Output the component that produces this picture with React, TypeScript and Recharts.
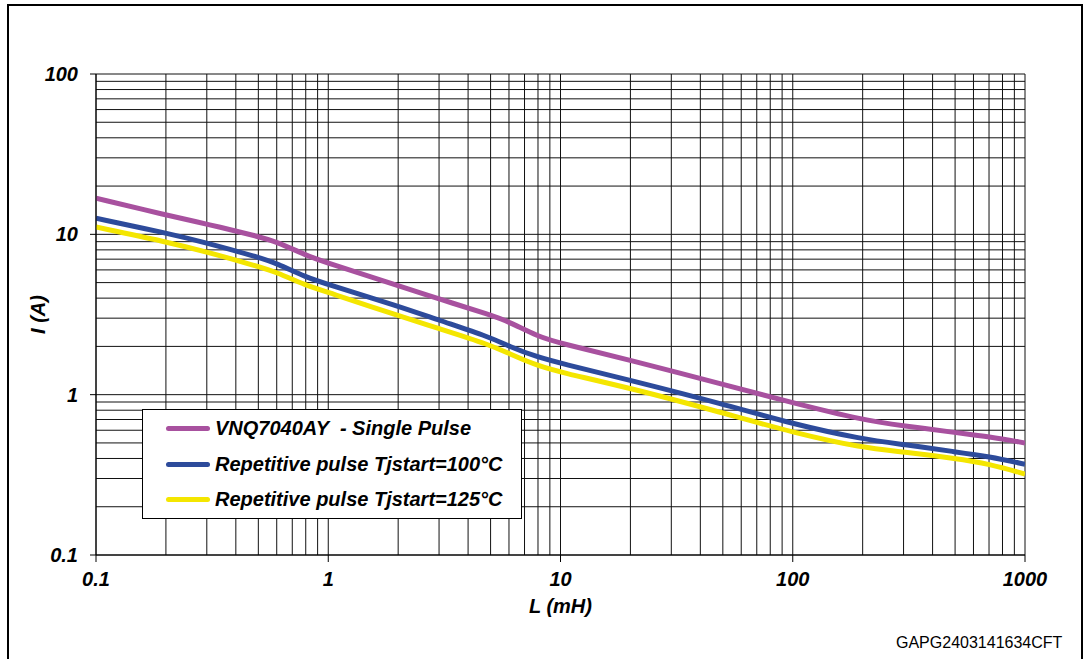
import React from "react";
import {
  LineChart,
  Line,
  XAxis,
  YAxis,
  ReferenceLine,
  Label,
} from "recharts";

// inductance values (mH) where the curves were read
const inductance = [0.1, 0.2, 0.3, 0.5, 0.6, 0.8, 1, 2, 3, 5, 6, 8, 10, 20, 50, 100, 200, 300, 500, 700, 1000];

// current (A) for each curve
const singlePulse = [16.8, 13.2, 11.6, 9.7, 9.0, 7.4, 6.6, 4.8, 3.95, 3.14, 2.85, 2.3, 2.09, 1.64, 1.16, 0.89, 0.695, 0.64, 0.58, 0.547, 0.5];
const rep100 = [12.6, 10.2, 8.85, 7.2, 6.6, 5.4, 4.86, 3.57, 2.91, 2.28, 2.0, 1.71, 1.57, 1.23, 0.875, 0.656, 0.527, 0.489, 0.44, 0.411, 0.368];
const rep125 = [11.1, 9.0, 7.77, 6.3, 5.8, 4.8, 4.35, 3.11, 2.58, 2.04, 1.8, 1.51, 1.38, 1.1, 0.77, 0.58, 0.465, 0.44, 0.4, 0.37, 0.32];

const xTicks = [0.1, 1, 10, 100, 1000];
const yTicks = [0.1, 1, 10, 100];

const seriesNames = [
  "VNQ7040AY  - Single Pulse",
  "Repetitive pulse Tjstart=100°C",
  "Repetitive pulse Tjstart=125°C",
];
const seriesColors = ["#A8519F", "#2D4B9B", "#F4E600"];

const data = inductance.map((l, i) => ({
  l,
  single: singlePulse[i],
  r100: rep100[i],
  r125: rep125[i],
}));

// log grid: 1..9 in every decade
const decadeGrid = (from: number[], last: number) => {
  const out: number[] = [];
  from.forEach((d) => {
    for (let k = 1; k <= 9; k++) out.push(+(d * k).toPrecision(3));
  });
  out.push(last);
  return out;
};
const xGrid = decadeGrid([0.1, 1, 10, 100], 1000);
const yGrid = decadeGrid([0.1, 1, 10], 100);

const font = "'Liberation Sans', Arial, sans-serif";
const tickStyle = {
  fontFamily: font,
  fontSize: 20,
  fontWeight: "bold",
  fontStyle: "italic",
  fill: "#000",
};

function LegendBox() {
  return (
    <div
      style={{
        position: "absolute",
        left: 142,
        top: 409,
        width: 380,
        height: 110,
        border: "1px solid #000",
        background: "#fff",
        boxSizing: "border-box",
      }}
    >
      {seriesNames.map((name, i) => (
        <div
          key={name}
          style={{ display: "flex", alignItems: "center", height: 35.5, marginTop: i === 0 ? 1 : 0 }}
        >
          <div
            style={{
              width: 44,
              height: 5,
              borderRadius: 3,
              background: seriesColors[i],
              marginLeft: 23,
              marginRight: 5,
            }}
          />
          <span
            style={{
              fontFamily: font,
              fontSize: 20,
              fontWeight: "bold",
              fontStyle: "italic",
              color: "#000",
              whiteSpace: "pre",
            }}
          >
            {name}
          </span>
        </div>
      ))}
    </div>
  );
}

export default function App() {
  return (
    <div style={{ position: "absolute", left: 0, top: 0, width: 1086, height: 659, overflow: "hidden", background: "#fff" }}>
      <div
        style={{
          position: "absolute",
          left: 7,
          top: 4,
          width: 1076,
          height: 700,
          border: "2px solid #000",
          boxSizing: "border-box",
        }}
      />
      <div style={{ position: "absolute", left: 0, top: 0 }}>
        <LineChart
          width={1086}
          height={659}
          data={data}
          margin={{ top: 74, right: 61, bottom: 74, left: 36 }}
        >
          {xGrid.map((v) => (
            <ReferenceLine key={"x" + v} x={v} stroke="#111" strokeWidth={1} />
          ))}
          {yGrid.map((v) => (
            <ReferenceLine key={"y" + v} y={v} stroke="#111" strokeWidth={1} />
          ))}
          <XAxis
            dataKey="l"
            type="number"
            scale="log"
            domain={[0.1, 1000]}
            ticks={xTicks}
            allowDataOverflow
            height={30}
            tickSize={7}
            tickMargin={10}
            stroke="#000"
            tick={tickStyle}
            tickFormatter={(v) => String(v)}
          >
            <Label
              value="L (mH)"
              position="bottom"
              offset={14}
              style={{ ...tickStyle, textAnchor: "middle" }}
            />
          </XAxis>
          <YAxis
            type="number"
            scale="log"
            domain={[0.1, 100]}
            ticks={yTicks}
            allowDataOverflow
            width={60}
            tickSize={6}
            tickMargin={12}
            stroke="#000"
            tick={tickStyle}
            tickFormatter={(v) => String(v)}
          >
            <Label
              value="I (A)"
              angle={-90}
              position="insideLeft"
              offset={2}
              style={{ ...tickStyle, textAnchor: "middle" }}
            />
          </YAxis>
          <Line
            dataKey="single"
            name={seriesNames[0]}
            type="basis"
            stroke={seriesColors[0]}
            strokeWidth={5}
            dot={false}
            isAnimationActive={false}
          />
          <Line
            dataKey="r100"
            name={seriesNames[1]}
            type="basis"
            stroke={seriesColors[1]}
            strokeWidth={5}
            dot={false}
            isAnimationActive={false}
          />
          <Line
            dataKey="r125"
            name={seriesNames[2]}
            type="basis"
            stroke={seriesColors[2]}
            strokeWidth={5}
            dot={false}
            isAnimationActive={false}
          />
        </LineChart>
      </div>
      <LegendBox />
      <div
        style={{
          position: "absolute",
          left: 896,
          top: 634,
          fontFamily: font,
          fontSize: 16,
          color: "#000",
        }}
      >
        GAPG2403141634CFT
      </div>
    </div>
  );
}
